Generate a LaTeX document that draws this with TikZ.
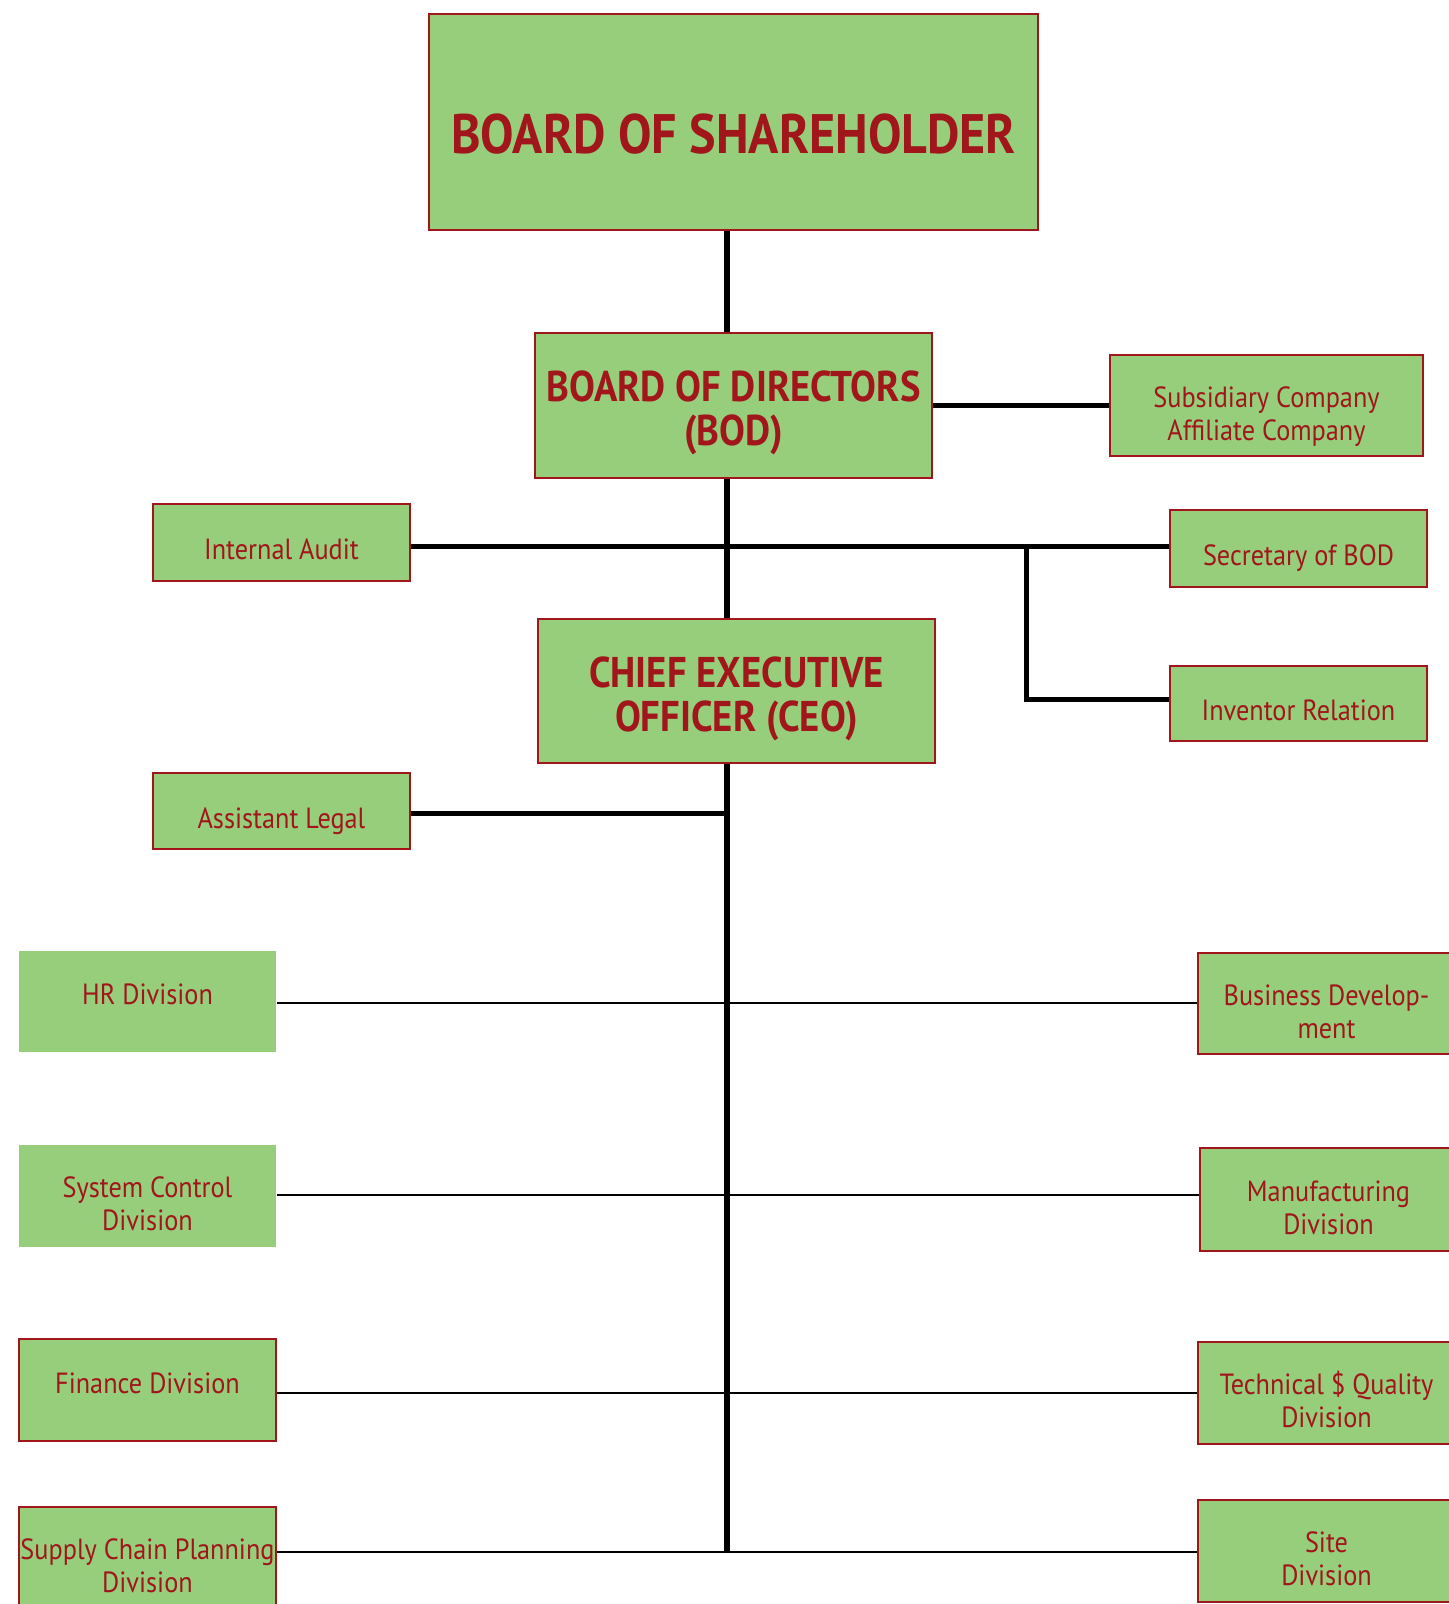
\documentclass[tikz,border=0pt]{standalone}
\usepackage{fontspec}
\setmainfont{PT Sans}[FakeStretch=0.9]
\usetikzlibrary{positioning}
\definecolor{boxgreen}{RGB}{151,206,123}
\definecolor{boxred}{RGB}{160,22,27}

\begin{document}
\begin{tikzpicture}[x=0.5pt,y=-0.5pt]
    \tikzset{
        unit/.style={draw=boxred, line width=1pt, fill=boxgreen, text=boxred,
            align=center, inner sep=0pt, minimum width=128.5pt,
            font=\fontsize{14.6}{16.5}\selectfont,
            execute at begin node={\rule{0pt}{21.2pt}},
            execute at end node={\rule[-4pt]{0pt}{4pt}}},
        two line/.style={execute at begin node={\rule{0pt}{38.7pt}}},
        high line/.style={execute at end node={\rule[-18pt]{0pt}{18pt}}},
        plain unit/.style={unit, draw=none},
        head/.style={unit, font=\fontsize{21.5}{22}\selectfont\bfseries,
            minimum width=198.5pt, minimum height=72pt,
            execute at begin node={\rule{0pt}{46pt}},
            execute at end node={\rule[-6pt]{0pt}{6pt}}},
        thick link/.style={line width=2.5pt},
        trunk link/.style={line width=3pt},
        thin link/.style={line width=1.3pt}
    }
    \useasboundingbox (0,0) rectangle (1448,1604);

    \node[unit, minimum width=304.5pt, minimum height=108pt,
        font=\fontsize{27.8}{30}\selectfont\bfseries,
        execute at begin node={\rule{0pt}{38.3pt}},
        execute at end node={\rule[-7pt]{0pt}{7pt}}] (bos) at (733.5,122) {BOARD OF SHAREHOLDER};
    \node[head] (bod) at (733.5,405.5) {BOARD OF DIRECTORS\\(BOD)};
    \node[head] (ceo) at (736.5,691) {CHIEF EXECUTIVE\\OFFICER (CEO)};

    \node[unit, two line, minimum width=156.5pt, minimum height=50.5pt] (sub) at (1266.5,405.5) {Subsidiary Company\\Affiliate Company};
    \node[unit, minimum height=38.5pt] (audit) at (281.5,542.5) {Internal Audit};
    \node[unit, minimum height=38.5pt] (sec) at (1298.5,548.5) {Secretary of BOD};
    \node[unit, minimum height=37.5pt] (inv) at (1298.5,703.5) {Inventor Relation};
    \node[unit, minimum height=38pt] (legal) at (281.5,811) {Assistant Legal};

    % divisions
    \node[plain unit, high line, minimum height=50.5pt] (hr) at (147.5,1001.5) {HR Division};
    \node[plain unit, two line, minimum height=51pt] (sysctl) at (147.5,1196) {System Control\\Division};
    \node[unit, high line, minimum height=51pt] (fin) at (147.5,1390) {Finance Division};
    \node[unit, two line, minimum height=51pt] (supply) at (147.5,1558) {Supply Chain Planning\\Division};

    \node[unit, two line, minimum height=50.5pt] (bizdev) at (1326.5,1003.5) {Business Develop-\\ment};
    \node[unit, two line, minimum height=51.5pt] (manu) at (1328.5,1199.5) {Manufacturing\\Division};
    \node[unit, two line, minimum height=51pt] (tech) at (1326.5,1393) {Technical \$ Quality\\Division};
    \node[unit, two line, minimum height=51pt] (site) at (1326.5,1551) {Site\\Division};

    \coordinate (tr) at (727,0);
    \coordinate (j1) at (1026,546);
    \coordinate (j2) at (1026,699.5);
    \coordinate (tend) at (727,1552);

    \draw[trunk link] (bos.south -| tr) -- (bod.north -| tr);
    \draw[trunk link] (bod.south -| tr) -- (ceo.north -| tr);
    \draw[trunk link] (ceo.south -| tr) -- (tend);
    \draw[thick link] (bod.east) -- (sub.west);
    \draw[thick link] (audit.east |- j1) -- (sec.west |- j1);
    \draw[thick link] (j1) -- (j2) -- (inv.west |- j2);
    \draw[thick link] (legal.east |- 0,813) -- (tr |- 0,813);

    \draw[thin link] (hr.east |- 0,1003) -- (bizdev.west |- 0,1003);
    \draw[thin link] (sysctl.east |- 0,1195) -- (manu.west |- 0,1195);
    \draw[thin link] (fin.east |- tech.west) -- (tech.west);
    \draw[thin link] (supply.east |- tend) -- (site.west |- tend);
\end{tikzpicture}
\end{document}
